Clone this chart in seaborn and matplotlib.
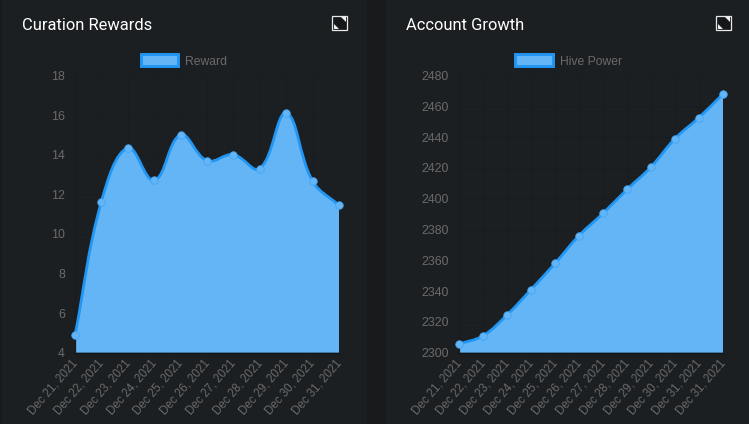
import matplotlib
matplotlib.use("Agg")
import matplotlib.pyplot as plt
import numpy as np
import pandas as pd
import seaborn as sns
from matplotlib.patches import Patch, PathPatch, Polygon, Rectangle
from matplotlib.path import Path
from matplotlib.transforms import Affine2D

# values
reward_dates = ["Dec 21, 2021", "Dec 22, 2021", "Dec 23, 2021", "Dec 24, 2021", "Dec 25, 2021", "Dec 26, 2021",
                "Dec 27, 2021", "Dec 28, 2021", "Dec 29, 2021", "Dec 30, 2021", "Dec 31, 2021"]
reward_values = [4.88, 11.63, 14.35, 12.7, 15.0, 13.7, 14.0, 13.3, 16.1, 12.67, 11.44]
reward_ticks = [4, 6, 8, 10, 12, 14, 16, 18]

power_dates = ["Dec 21, 2021", "Dec 22, 2021", "Dec 23, 2021", "Dec 24, 2021", "Dec 25, 2021", "Dec 26, 2021",
               "Dec 27, 2021", "Dec 28, 2021", "Dec 29, 2021", "Dec 30, 2021", "Dec 31, 2021", "Dec 31, 2021"]
power_values = [2305.6, 2311, 2324.5, 2341, 2358, 2376, 2390.5, 2406, 2420.6, 2439, 2452.7, 2468]
power_ticks = [2300, 2320, 2340, 2360, 2380, 2400, 2420, 2440, 2460, 2480]

W, H = 749, 424
GAP = "#181a1c"
PANEL = "#1c1f22"
GRID = "#191b1e"
FILL = "#64b5f6"
LINE = "#2196f3"
MUTED = "#6a6a6a"

sns.set_theme(style="dark")
plt.rcParams["font.family"] = ["Liberation Sans", "DejaVu Sans"]

fig = plt.figure(figsize=(W / 100, H / 100), dpi=100, facecolor=GAP)
px = Affine2D().scale(1 / W, -1 / H).translate(0, 1) + fig.transFigure  # pixel coords, y down


def smooth_path(ax, xs, ys, tension=0.4):
    # same bezier control points a chart.js line uses, worked out in screen space
    pts = ax.transData.transform(np.column_stack([xs, ys]))
    verts = [pts[0]]
    codes = [Path.MOVETO]
    n = len(pts)
    for i in range(n - 1):
        p0, p1, p2, p3 = pts[max(i - 1, 0)], pts[i], pts[i + 1], pts[min(i + 2, n - 1)]
        d1 = np.hypot(*(p1 - p0))
        d2 = np.hypot(*(p2 - p1))
        d3 = np.hypot(*(p3 - p2))
        c1 = p1 + tension * d2 / (d1 + d2) * (p2 - p0)
        c2 = p2 - tension * d2 / (d2 + d3) * (p3 - p1)
        c1[1] = np.clip(c1[1], ax.bbox.y0, ax.bbox.y1)
        c2[1] = np.clip(c2[1], ax.bbox.y0, ax.bbox.y1)
        verts += [c1, c2, p2]
        codes += [Path.CURVE4] * 3
    return ax.transData.inverted().transform(np.array(verts)), codes


def draw_panel(left, right, panel_left, panel_right, title, series, dates, values, ticks, legend_x, icon_x):
    fig.add_artist(Rectangle((panel_left, 0), panel_right - panel_left, H, transform=px, fc=PANEL, ec="none"))
    top, bottom = 75.5, 352.7
    ax = fig.add_axes([left / W, 1 - bottom / H, (right - left) / W, (bottom - top) / H], facecolor="none")
    ax.set_zorder(2)

    df = pd.DataFrame({"x": range(len(values)), "y": values})
    ax.set_xlim(0, len(values) - 1)
    ax.set_ylim(ticks[0], ticks[-1])

    verts, codes = smooth_path(ax, df["x"].to_numpy(float), df["y"].to_numpy(float))
    closed = np.vstack([verts, [[df["x"].iloc[-1], ticks[0]], [0, ticks[0]], verts[0]]])
    ax.add_patch(PathPatch(Path(closed, codes + [Path.LINETO, Path.LINETO, Path.CLOSEPOLY]),
                           fc=FILL, ec="none", zorder=2))
    ax.add_patch(PathPatch(Path(verts, codes), fc="none", ec=LINE, lw=2.0, zorder=3, clip_on=False))
    sns.lineplot(data=df, x="x", y="y", ax=ax, linewidth=0, marker="o", markersize=5.4, markerfacecolor=FILL,
                 markeredgecolor="#42a5f5", markeredgewidth=0.6, clip_on=False, zorder=4)

    ax.set_xlabel("")
    ax.set_ylabel("")
    ax.set_xticks(df["x"])
    ax.set_xticklabels(dates, rotation=49, ha="right", rotation_mode="anchor", fontsize=8.3, color=MUTED)
    ax.set_yticks(ticks)
    ax.set_yticklabels(ticks, fontsize=8.9, color=MUTED)
    ax.tick_params(axis="x", length=4, width=0.7, color=GRID, pad=1)
    ax.tick_params(axis="y", length=0, pad=7.2)
    # has to come after tick_params, the pad call resets label transforms
    shift = Affine2D().translate(-4, 2)
    for lab in ax.get_xticklabels():
        lab.set_transform(lab.get_transform() + shift)
    ax.grid(True, color=GRID, lw=0.7)
    ax.set_axisbelow(True)
    for side in ["top", "right"]:
        ax.spines[side].set_visible(False)
    for side in ["left", "bottom"]:
        ax.spines[side].set_color("#131416")
        ax.spines[side].set_linewidth(0.9)
    ax.spines["left"].set_color(GRID)

    fig.text(panel_left + 20, 25, title, transform=px, family="Roboto", fontsize=11.9, color="white",
             va="center", ha="left")

    # legend sits centred on the whole chart, not on the plot area
    ax.legend(handles=[Patch(fc=FILL, ec=LINE, lw=2.1, label=series)], loc="center", frameon=False,
              bbox_to_anchor=(legend_x, 61), bbox_transform=px, fontsize=8.7, labelcolor=MUTED,
              handlelength=3.1, handleheight=1.15, handletextpad=0.6, borderpad=0, borderaxespad=0)

    # expand icon in the corner
    fig.add_artist(Rectangle((icon_x, 15.5), 15, 14.5, transform=px, fc="#15171a", ec="#e8e8e8", lw=0.9))
    fig.add_artist(Polygon([(icon_x + 8.5, 17), (icon_x + 13.5, 17), (icon_x + 13.5, 22)], transform=px,
                           fc="#f0f0f0", ec="none"))
    fig.add_artist(Polygon([(icon_x + 1.5, 23.5), (icon_x + 1.5, 28.5), (icon_x + 6.5, 28.5)], transform=px,
                           fc="#f0f0f0", ec="none"))


draw_panel(75, 339, 2, 367, "Curation Rewards", "Reward", reward_dates, reward_values, reward_ticks, 184, 332)
draw_panel(459, 723, 386, 749, "Account Growth", "Hive Power", power_dates, power_values, power_ticks, 568.5, 716)

fig.savefig("out.png", dpi=100, facecolor=fig.get_facecolor())
